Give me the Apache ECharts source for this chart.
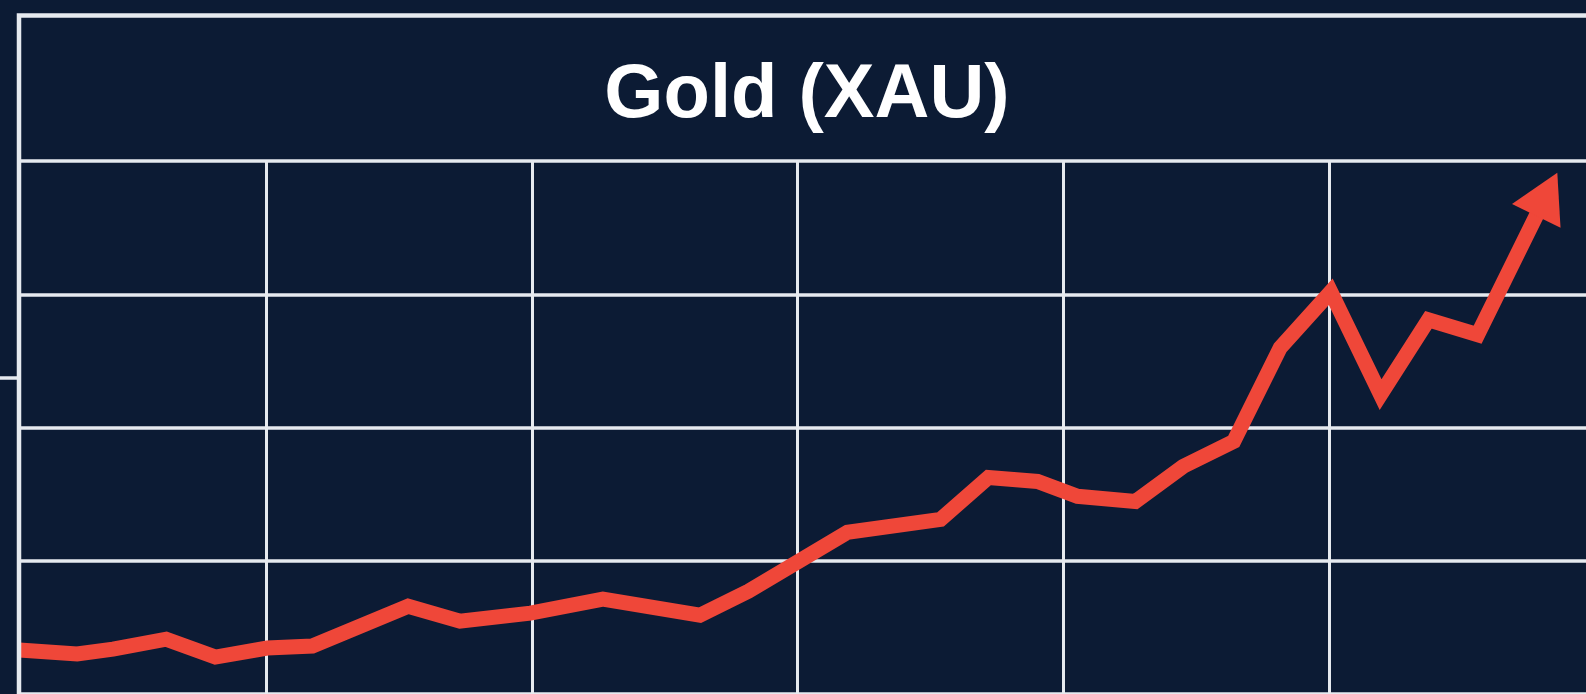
<!DOCTYPE html>
<html>
<head>
<meta charset="utf-8">
<style>
  html, body { margin: 0; padding: 0; background: #0c1b34; }
  #chart { width: 1586px; height: 694px; }
</style>
<script src="https://cdn.jsdelivr.net/npm/echarts@6/dist/echarts.min.js"></script>
</head>
<body>
<div id="chart"></div>
<script>
const chartTitle = 'Gold (XAU)';

// x = year, y = price (no labels in the original)
const years = [2000.29, 2001.16, 2001.70, 2002.50, 2003.24, 2004.02, 2004.70, 2006.14, 2006.92,
    2007.98, 2009.07, 2010.53, 2011.26, 2012.75, 2014.15, 2014.87, 2015.61, 2016.21, 2017.08,
    2017.80, 2018.56, 2019.26, 2020.02, 2020.77, 2021.49, 2022.23, 2023.27];
const prices = [198, 180, 202, 247, 166, 207, 216, 395, 328,
    364, 427, 355, 463, 728, 786, 975, 957, 890, 867,
    1025, 1137, 1559, 1811, 1348, 1685, 1618, 2250];

// right edge of the picture cuts the last column
const xRange = [2000, 2023.86, 4];
const yRange = [0, 2400, 600];

const bg = '#0c1b34';
const lineColor = '#ef4739';
const gridColor = '#e6eaef';

function buildData() {
    return years.map((y, i) => {
        if (i === years.length - 1) {
            return {
                value: [y, prices[i]],
                symbol: 'triangle',
                symbolSize: [54, 48],
                symbolRotate: -26,
                itemStyle: { color: lineColor }
            };
        }
        return { value: [y, prices[i]], symbol: 'none' };
    });
}

const chart = echarts.init(document.querySelector('#chart'));
chart.setOption({
    backgroundColor: bg,
    animation: false,
    grid: { left: 0, right: 0, top: 161, bottom: 0 },
    xAxis: {
        type: 'value',
        min: xRange[0], max: xRange[1], interval: xRange[2],
        axisLine: { show: false },
        axisTick: { show: false },
        axisLabel: { show: false },
        splitLine: { show: true, showMaxLine: false, lineStyle: { color: gridColor, width: 3 } }
    },
    yAxis: {
        type: 'value',
        min: yRange[0], max: yRange[1], interval: yRange[2],
        axisLine: { show: false },
        axisTick: { show: false },
        axisLabel: { show: false },
        splitLine: { show: true, lineStyle: { color: gridColor, width: 3.5 } }
    },
    series: [{
        type: 'line',
        data: buildData(),
        showAllSymbol: true,
        clip: false,
        lineStyle: { color: lineColor, width: 15, join: 'miter' },
        itemStyle: { color: lineColor }
    }],
    graphic: [
        // hide grid lines left of the frame
        { type: 'rect', z: 10, shape: { x: 0, y: 150, width: 17, height: 560 }, style: { fill: bg } },
        { type: 'polyline', z: 11, shape: { points: [[19, 700], [19, 15.5], [1600, 15.5]] },
          style: { stroke: gridColor, lineWidth: 4.5, fill: null } },
        { type: 'line', z: 11, shape: { x1: 0, y1: 378, x2: 17, y2: 378 },
          style: { stroke: gridColor, lineWidth: 3.5 } },
        { type: 'text', z: 11, x: 807, y: 96,
          style: { text: chartTitle, fill: '#ffffff', font: 'bold 76px "Liberation Sans", Arial, sans-serif',
                   align: 'center', verticalAlign: 'middle' } }
    ]
});
</script>
</body>
</html>
